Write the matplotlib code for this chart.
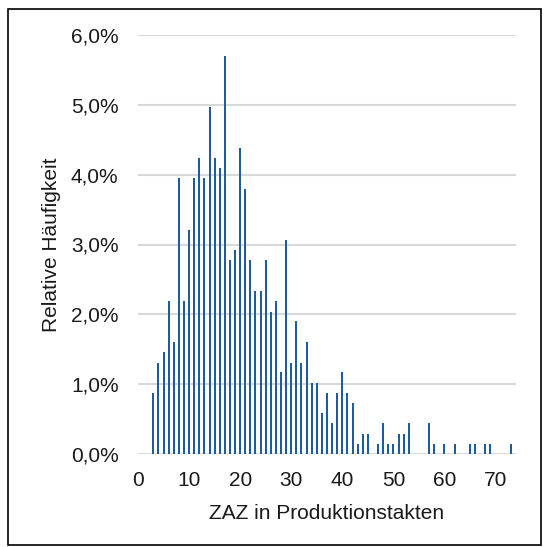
import matplotlib.pyplot as plt
from matplotlib.patches import Rectangle
from matplotlib.ticker import FuncFormatter

plt.rcParams['font.family'] = ['Liberation Sans', 'DejaVu Sans']

# ZAZ in Produktionstakten und relative Häufigkeit in %
zaz = [3, 4, 5, 6, 7, 8, 9, 10, 11, 12, 13, 14, 15, 16, 17, 18, 19, 20,
       21, 22, 23, 24, 25, 26, 27, 28, 29, 30, 31, 32, 33, 34, 35, 36, 37,
       38, 39, 40, 41, 42, 43, 44, 45, 47, 48, 49, 50, 51, 52, 53, 57, 58,
       60, 62, 65, 66, 68, 69, 73]
haeufigkeit = [0.88, 1.31, 1.46, 2.19, 1.61, 3.95, 2.19, 3.21, 3.95, 4.24,
               3.95, 4.97, 4.24, 4.09, 5.70, 2.78, 2.92, 4.38, 3.80, 2.78,
               2.34, 2.34, 2.78, 2.04, 2.19, 1.17, 3.07, 1.31, 1.90, 1.31,
               1.61, 1.02, 1.02, 0.58, 0.88, 0.44, 0.88, 1.17, 0.88, 0.73,
               0.15, 0.29, 0.29, 0.15, 0.44, 0.15, 0.15, 0.29, 0.29, 0.44,
               0.44, 0.15, 0.15, 0.15, 0.15, 0.15, 0.15, 0.15, 0.15]

fig = plt.figure(figsize=(5.47, 5.47), dpi=100)
ax = fig.add_axes([138 / 547, 1 - 454 / 547, 378 / 547, 419 / 547])

ax.bar(zaz, haeufigkeit, width=0.39, color='#1f5c9c', zorder=3)

ax.set_xlim(0, 74)
ax.set_ylim(0, 6)
ax.set_xticks(range(0, 71, 10))
ax.set_yticks(range(0, 7))
ax.yaxis.set_major_formatter(FuncFormatter(lambda v, p: f"{v:.1f}%".replace('.', ',')))
ax.grid(axis='y', color='#d9d9d9', linewidth=1.5, zorder=0)
for s in ax.spines.values():
    s.set_visible(False)
ax.tick_params(length=0, labelsize=15, colors='#1a1a1a')
ax.tick_params(axis='x', pad=12)
ax.tick_params(axis='y', pad=14)

ax.set_xlabel("ZAZ in Produktionstakten", fontsize=15, color='#1a1a1a', labelpad=10)
ax.set_ylabel("Relative Häufigkeit", fontsize=15, color='#1a1a1a', labelpad=7)

fig.patches.append(Rectangle((8 / 547, 1 - 545 / 547), 533 / 547, 536 / 547,
                             transform=fig.transFigure, fill=False,
                             edgecolor='black', linewidth=1.2))

fig.savefig("out.png", dpi=100)
